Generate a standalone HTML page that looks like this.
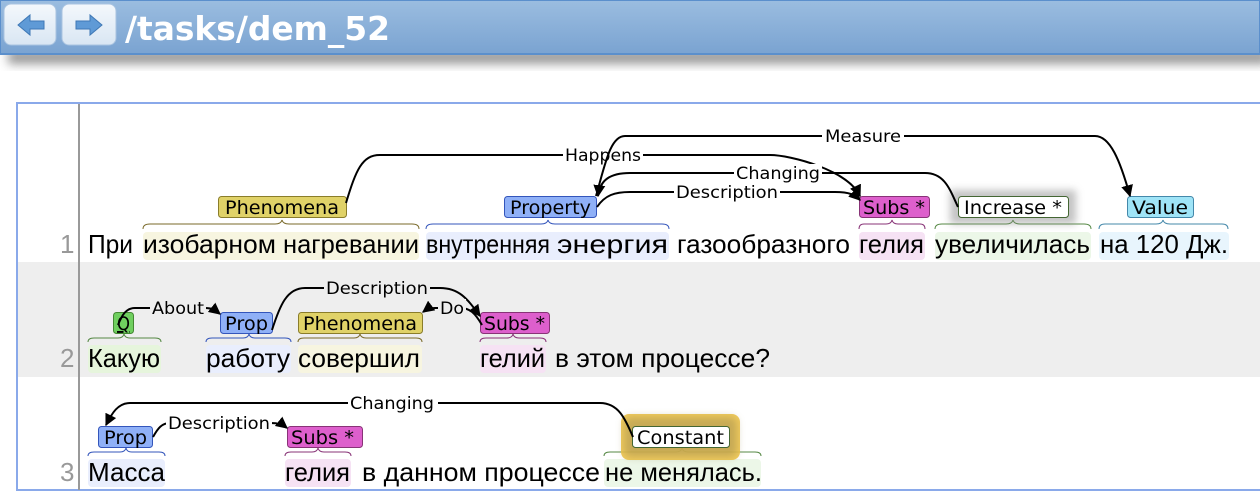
<!DOCTYPE html>
<html><head><meta charset="utf-8"><style>
html,body{margin:0;padding:0;background:#fff;width:1260px;height:504px;overflow:hidden}
svg{display:block}
.t{font-family:"Liberation Sans","DejaVu Sans",sans-serif;font-size:26px;fill:#000}
.l{font-family:"DejaVu Sans","Liberation Sans",sans-serif;font-size:19px;fill:#000}
.a{font-family:"DejaVu Sans","Liberation Sans",sans-serif;font-size:17px;fill:#000}
.arc{fill:none;stroke:#000;stroke-width:2}
.br{fill:none;stroke-width:1}
</style></head><body>
<svg width="1260" height="504" viewBox="0 0 1260 504" xmlns="http://www.w3.org/2000/svg">
<defs>
<linearGradient id="hd" x1="0" y1="0" x2="0" y2="1"><stop offset="0" stop-color="#9bbde0"/><stop offset="1" stop-color="#7aa3d1"/></linearGradient>
<linearGradient id="bt" x1="0" y1="0" x2="0" y2="1"><stop offset="0" stop-color="#f4f8fc"/><stop offset="1" stop-color="#d9e6f3"/></linearGradient>
<filter id="sh" x="-5%" y="-50%" width="110%" height="200%"><feGaussianBlur stdDeviation="5"/></filter>
<filter id="gl" x="-30%" y="-50%" width="160%" height="200%"><feGaussianBlur stdDeviation="4"/></filter>
<marker id="ar" viewBox="0 0 10 10" refX="9" refY="5" markerWidth="6" markerHeight="6" orient="auto"><path d="M0,0L10,5L0,10z" fill="#000"/></marker>
</defs>
<rect x="8" y="50" width="1260" height="14" fill="#555" opacity="0.6" filter="url(#sh)"/>
<rect x="0" y="0" width="1260" height="54" fill="url(#hd)" stroke="#5b8fcc" stroke-width="2"/>
<rect x="4" y="4" width="52" height="41" rx="7" fill="url(#bt)" stroke="#a9c3e0"/>
<rect x="62" y="4" width="54" height="41" rx="7" fill="url(#bt)" stroke="#a9c3e0"/>
<path d="M18,25 L30,15 L30,21 L44,21 L44,29 L30,29 L30,35 Z" fill="#5f9ad6" stroke="#3f78b5"/>
<path d="M102,25 L90,15 L90,21 L76,21 L76,29 L90,29 L90,35 Z" fill="#5f9ad6" stroke="#3f78b5"/>
<text x="125" y="40" font-family="DejaVu Sans,Liberation Sans,sans-serif" font-weight="bold" font-size="33" fill="#fff" textLength="265" lengthAdjust="spacingAndGlyphs">/tasks/dem_52</text>
<rect x="17" y="262" width="1243" height="115" fill="#eeeeee"/>
<path d="M1262,103 H17 V490 H1262" fill="none" stroke="#8aa9ea" stroke-width="2"/>
<line x1="79" y1="104" x2="79" y2="490" stroke="#999" stroke-width="2"/>
<text class="t" x="60" y="253" style="fill:#999">1</text><text class="t" x="60" y="367" style="fill:#999">2</text><text class="t" x="60" y="481" style="fill:#999">3</text>

<!-- ROW 1 -->
<rect x="143" y="232" width="276" height="28" rx="4" fill="#f7f5e0"/>
<rect x="426" y="232" width="243" height="28" rx="4" fill="#e9eefd"/>
<rect x="859" y="232" width="66" height="28" rx="4" fill="#f6e2f4"/>
<rect x="935" y="232" width="156" height="28" rx="4" fill="#ecf7e8"/>
<rect x="1099" y="232" width="130" height="28" rx="4" fill="#e8f5fd"/>
<g class="t">
<text x="88" y="253" textLength="45" lengthAdjust="spacingAndGlyphs">При</text>
<text x="143" y="253" textLength="133" lengthAdjust="spacingAndGlyphs">изобарном</text>
<text x="283" y="253" textLength="136" lengthAdjust="spacingAndGlyphs">нагревании</text>
<text x="426" y="253" textLength="124" lengthAdjust="spacingAndGlyphs">внутренняя</text>
<text x="557" y="253" textLength="111" lengthAdjust="spacingAndGlyphs">энергия</text>
<text x="677" y="253" textLength="173" lengthAdjust="spacingAndGlyphs">газообразного</text>
<text x="859" y="253" textLength="65" lengthAdjust="spacingAndGlyphs">гелия</text>
<text x="935" y="253" textLength="155" lengthAdjust="spacingAndGlyphs">увеличилась</text>
<text x="1100" y="253" textLength="128" lengthAdjust="spacingAndGlyphs">на 120 Дж.</text>
</g>
<path class="br" stroke="#7a6a2a" d="M143,229 Q143,224 150,224 H275 Q281,224 282,220 Q283,224 289,224 H412 Q419,224 419,229"/>
<path class="br" stroke="#3355bb" d="M426,229 Q426,224 433,224 H541 Q547,224 548,220 Q549,224 555,224 H662 Q669,224 669,229"/>
<path class="br" stroke="#883377" d="M859,229 Q859,224 864,224 H886 Q891,224 892,220 Q893,224 898,224 H920 Q925,224 925,229"/>
<path class="br" stroke="#558844" d="M935,229 Q935,224 942,224 H1006 Q1012,224 1013,220 Q1014,224 1020,224 H1084 Q1091,224 1091,229"/>
<path class="br" stroke="#4488aa" d="M1099,229 Q1099,224 1105,224 H1156 Q1162,224 1163,220 Q1164,224 1170,224 H1222 Q1228,224 1228,229"/>
<rect x="218.5" y="196.5" width="128" height="21" rx="3" fill="#e0d268" stroke="#8a7d2a"/>
<text class="l" x="225" y="214" textLength="114" lengthAdjust="spacingAndGlyphs">Phenomena</text>
<rect x="504.5" y="196.5" width="92" height="21" rx="3" fill="#8fb0f7" stroke="#3355bb"/>
<text class="l" x="510" y="214" textLength="81" lengthAdjust="spacingAndGlyphs">Property</text>
<rect x="859.5" y="196.5" width="70" height="21" rx="3" fill="#dd5fcc" stroke="#883377"/>
<text class="l" x="863" y="214" textLength="62" lengthAdjust="spacingAndGlyphs">Subs *</text>
<rect x="950" y="190" width="126" height="34" fill="#888" opacity="0.5" filter="url(#gl)"/>
<rect x="958.5" y="196.5" width="110" height="21" rx="3" fill="#fff" stroke="#446633"/>
<text class="l" x="964" y="214" textLength="98" lengthAdjust="spacingAndGlyphs">Increase *</text>
<rect x="1127.5" y="196.5" width="66" height="21" rx="3" fill="#9fe4f7" stroke="#4488aa"/>
<text class="l" x="1132" y="214" textLength="56" lengthAdjust="spacingAndGlyphs">Value</text>
<path class="arc" d="M346,203 C356,170 362,155 380,155 H770 C790,155 848,170 860,196" marker-end="url(#ar)"/>
<rect x="563" y="146" width="80" height="18" fill="#fff"/><text class="a" x="565" y="161" textLength="76" lengthAdjust="spacingAndGlyphs">Happens</text>
<path class="arc" d="M596,196 C605,165 610,136 625,136 H1095 C1110,136 1120,160 1130,196" marker-end="url(#ar)"/>
<rect x="822" y="127" width="82" height="18" fill="#fff"/><text class="a" x="825" y="142" textLength="76" lengthAdjust="spacingAndGlyphs">Measure</text>
<path class="arc" d="M958,207 C950,190 945,173 925,173 H630 C610,173 600,180 598,196" marker-end="url(#ar)"/>
<rect x="734" y="164" width="88" height="18" fill="#fff"/><text class="a" x="736" y="179" textLength="84" lengthAdjust="spacingAndGlyphs">Changing</text>
<path class="arc" d="M597,207 C605,195 615,192 630,192 H835 C850,192 855,195 860,200" marker-end="url(#ar)"/>
<rect x="674" y="183" width="106" height="18" fill="#fff"/><text class="a" x="676" y="198" textLength="102" lengthAdjust="spacingAndGlyphs">Description</text>

<!-- ROW 2 -->
<rect x="88" y="345" width="73" height="28" rx="4" fill="#e6f5dc"/>
<rect x="206" y="345" width="85" height="28" rx="4" fill="#e9eefd"/>
<rect x="298" y="345" width="124" height="28" rx="4" fill="#f7f5e0"/>
<rect x="480" y="345" width="66" height="28" rx="4" fill="#f6e2f4"/>
<g class="t">
<text x="88" y="367" textLength="72" lengthAdjust="spacingAndGlyphs">Какую</text>
<text x="206" y="367" textLength="84" lengthAdjust="spacingAndGlyphs">работу</text>
<text x="298" y="367" textLength="122" lengthAdjust="spacingAndGlyphs">совершил</text>
<text x="480" y="367" textLength="65" lengthAdjust="spacingAndGlyphs">гелий</text>
<text x="555" y="367" textLength="215" lengthAdjust="spacingAndGlyphs">в этом процессе?</text>
</g>
<path class="br" stroke="#558844" d="M88,342 Q88,338 94,338 H118 Q123,338 124,334 Q125,338 130,338 H155 Q161,338 161,342"/>
<path class="br" stroke="#3355bb" d="M206,342 Q206,338 212,338 H243 Q248,338 249,334 Q250,338 255,338 H285 Q291,338 291,342"/>
<path class="br" stroke="#7a6a2a" d="M298,342 Q298,338 304,338 H354 Q359,338 360,334 Q361,338 366,338 H416 Q422,338 422,342"/>
<path class="br" stroke="#883377" d="M480,342 Q480,338 486,338 H507 Q512,338 513,334 Q514,338 519,338 H540 Q546,338 546,342"/>
<rect x="113.5" y="312.5" width="20" height="21" rx="3" fill="#6fcf5f" stroke="#448833"/>
<text class="l" x="117" y="330" textLength="13" lengthAdjust="spacingAndGlyphs" text-decoration="underline">Q</text>
<rect x="220.5" y="312.5" width="52" height="21" rx="3" fill="#8fb0f7" stroke="#3355bb"/>
<text class="l" x="225" y="330" textLength="43" lengthAdjust="spacingAndGlyphs">Prop</text>
<rect x="298.5" y="312.5" width="124" height="21" rx="3" fill="#e0d268" stroke="#8a7d2a"/>
<text class="l" x="303" y="330" textLength="114" lengthAdjust="spacingAndGlyphs">Phenomena</text>
<rect x="480.5" y="312.5" width="69" height="21" rx="3" fill="#dd5fcc" stroke="#883377"/>
<text class="l" x="484" y="330" textLength="61" lengthAdjust="spacingAndGlyphs">Subs *</text>
<path class="arc" d="M118,325 C122,315 126,308 135,308 H205 C212,308 215,310 220,314" marker-end="url(#ar)"/>
<rect x="150" y="299" width="56" height="18" fill="#eee"/><text class="a" x="152" y="314" textLength="52" lengthAdjust="spacingAndGlyphs">About</text>
<path class="arc" d="M272,330 C280,305 287,288 305,288 H440 C460,288 468,300 480,316" marker-end="url(#ar)"/>
<rect x="324" y="279" width="106" height="18" fill="#eee"/><text class="a" x="326" y="294" textLength="102" lengthAdjust="spacingAndGlyphs">Description</text>
<path class="arc" d="M482,325 C475,313 470,308 460,308 H435 C430,308 427,309 423,312" marker-end="url(#ar)"/>
<rect x="438" y="299" width="28" height="18" fill="#eee"/><text class="a" x="440" y="314" textLength="24" lengthAdjust="spacingAndGlyphs">Do</text>

<!-- ROW 3 -->
<rect x="88" y="459" width="77" height="28" rx="4" fill="#e9eefd"/>
<rect x="285" y="459" width="66" height="28" rx="4" fill="#f6e2f4"/>
<rect x="604" y="459" width="157" height="28" rx="4" fill="#ecf7e8"/>
<g class="t">
<text x="88" y="481" textLength="77" lengthAdjust="spacingAndGlyphs">Масса</text>
<text x="285" y="481" textLength="65" lengthAdjust="spacingAndGlyphs">гелия</text>
<text x="362" y="481" textLength="238" lengthAdjust="spacingAndGlyphs">в данном процессе</text>
<text x="605" y="481" textLength="157" lengthAdjust="spacingAndGlyphs">не менялась.</text>
</g>
<path class="br" stroke="#3355bb" d="M88,456 Q88,452 94,452 H120 Q125,452 126,448 Q127,452 132,452 H159 Q165,452 165,456"/>
<path class="br" stroke="#883377" d="M285,456 Q285,452 291,452 H312 Q317,452 318,448 Q319,452 324,452 H345 Q351,452 351,456"/>
<path class="br" stroke="#558844" d="M604,456 Q604,452 610,452 H676 Q681,452 682,448 Q683,452 688,452 H755 Q761,452 761,456"/>
<rect x="98.5" y="426.5" width="54" height="21" rx="3" fill="#8fb0f7" stroke="#3355bb"/>
<text class="l" x="104" y="444" textLength="43" lengthAdjust="spacingAndGlyphs">Prop</text>
<rect x="287.5" y="426.5" width="75" height="21" rx="3" fill="#dd5fcc" stroke="#883377"/>
<text class="l" x="291" y="444" textLength="63" lengthAdjust="spacingAndGlyphs">Subs *</text>
<rect x="621" y="414" width="119" height="46" rx="8" fill="#f0c54a" opacity="0.9"/>
<rect x="624" y="417" width="113" height="40" rx="6" fill="#9e8a50" opacity="0.5" filter="url(#gl)"/>
<rect x="632.5" y="426.5" width="97" height="21" rx="3" fill="#fff" stroke="#446633"/>
<text class="l" x="637" y="444" textLength="87" lengthAdjust="spacingAndGlyphs">Constant</text>
<path class="arc" d="M633,437 C625,418 618,403 600,403 H130 C118,403 112,413 106,425" marker-end="url(#ar)"/>
<rect x="348" y="394" width="90" height="18" fill="#fff"/><text class="a" x="350" y="409" textLength="84" lengthAdjust="spacingAndGlyphs">Changing</text>
<path class="arc" d="M153,437 C158,428 162,423 170,423 H270 C278,423 282,424 287,428" marker-end="url(#ar)"/>
<rect x="166" y="414" width="106" height="18" fill="#fff"/><text class="a" x="168" y="429" textLength="102" lengthAdjust="spacingAndGlyphs">Description</text>
</svg>
</body></html>
